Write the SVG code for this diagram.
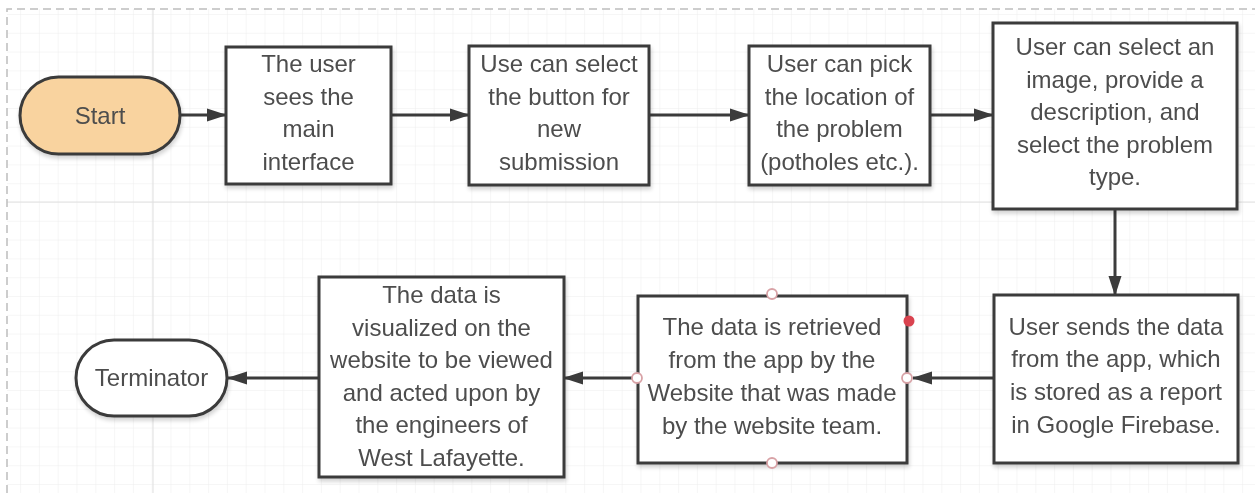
<svg xmlns="http://www.w3.org/2000/svg" width="1255" height="493" viewBox="0 0 1255 493">
  <style>
    .box { fill: #ffffff; stroke: #3b3b3b; stroke-width: 3; }
    .start { fill: #f9d39f; stroke: #3b3b3b; stroke-width: 3; }
    .term { fill: #ffffff; stroke: #3b3b3b; stroke-width: 3; }
    .lbl { font-family: "Liberation Sans", Arial, sans-serif; font-size: 24px; fill: #4d4d4d; text-anchor: middle; }
    .conn { stroke: #3b3b3b; stroke-width: 3; fill: none; marker-end: url(#arrow); }
    .cp { fill: #ffffff; stroke: #d8a2a6; stroke-width: 1.8; }
  </style>
  <defs>
    <pattern id="grid" x="1.3" y="14" width="18.8" height="18.8" patternUnits="userSpaceOnUse">
      <path d="M 0 0 L 18.8 0 M 0 0 L 0 18.8" stroke="#ededed" stroke-width="1" fill="none"/>
    </pattern>
    <marker id="arrow" markerWidth="20" markerHeight="16" refX="19" refY="8" orient="auto" markerUnits="userSpaceOnUse">
      <path d="M0,1.5 L20,8 L0,14.5 Z" fill="#3b3b3b"/>
    </marker>
    <filter id="sh" x="-10%" y="-10%" width="125%" height="130%">
      <feGaussianBlur in="SourceAlpha" stdDeviation="2"/>
      <feOffset dx="1" dy="3" result="b"/>
      <feComponentTransfer><feFuncA type="linear" slope="0.18"/></feComponentTransfer>
      <feMerge><feMergeNode/><feMergeNode in="SourceGraphic"/></feMerge>
    </filter>
  </defs>

  <rect x="0" y="0" width="1255" height="493" fill="#ffffff"/>
  <rect x="7" y="9" width="1248" height="484" fill="url(#grid)"/>
  <line x1="153" y1="9" x2="153" y2="493" stroke="#e0e0e0" stroke-width="1"/>
  <line x1="7" y1="202" x2="1255" y2="202" stroke="#e0e0e0" stroke-width="1"/>
  <path d="M 7 493 L 7 9 L 1255 9" fill="none" stroke="#bdbdbd" stroke-width="1.5" stroke-dasharray="8 5"/>

  <g id="connectors">
    <line class="conn" x1="180" y1="115" x2="226" y2="115"/>
    <line class="conn" x1="391" y1="115" x2="469" y2="115"/>
    <line class="conn" x1="649" y1="115" x2="749" y2="115"/>
    <line class="conn" x1="930" y1="115" x2="993" y2="115"/>
    <line class="conn" x1="1115" y1="209" x2="1115" y2="295"/>
    <line class="conn" x1="994" y1="378" x2="913" y2="378"/>
    <line class="conn" x1="632" y1="378" x2="564" y2="378"/>
    <line class="conn" x1="319" y1="378" x2="228" y2="378"/>
  </g>

  <g id="start" filter="url(#sh)">
    <rect class="start" x="20" y="77" width="160" height="77" rx="38.5" ry="38.5"/>
    <text class="lbl" x="100" y="124">Start</text>
  </g>

  <g id="n1" filter="url(#sh)">
    <rect class="box" x="226" y="47" width="165" height="137"/>
    <text class="lbl" x="308.5" y="72">The user</text>
    <text class="lbl" x="308.5" y="105">sees the</text>
    <text class="lbl" x="308.5" y="137">main</text>
    <text class="lbl" x="308.5" y="170">interface</text>
  </g>

  <g id="n2" filter="url(#sh)">
    <rect class="box" x="469" y="46" width="180" height="139"/>
    <text class="lbl" x="559" y="72">Use can select</text>
    <text class="lbl" x="559" y="105">the button for</text>
    <text class="lbl" x="559" y="137">new</text>
    <text class="lbl" x="559" y="170">submission</text>
  </g>

  <g id="n3" filter="url(#sh)">
    <rect class="box" x="749" y="46" width="181" height="139"/>
    <text class="lbl" x="839.5" y="72">User can pick</text>
    <text class="lbl" x="839.5" y="105">the location of</text>
    <text class="lbl" x="839.5" y="137">the problem</text>
    <text class="lbl" x="839.5" y="170">(potholes etc.).</text>
  </g>

  <g id="n4" filter="url(#sh)">
    <rect class="box" x="993" y="23" width="244" height="186"/>
    <text class="lbl" x="1115" y="55">User can select an</text>
    <text class="lbl" x="1115" y="88">image, provide a</text>
    <text class="lbl" x="1115" y="120">description, and</text>
    <text class="lbl" x="1115" y="153">select the problem</text>
    <text class="lbl" x="1115" y="185">type.</text>
  </g>

  <g id="n5" filter="url(#sh)">
    <rect class="box" x="994" y="295" width="244" height="168"/>
    <text class="lbl" x="1116" y="335">User sends the data</text>
    <text class="lbl" x="1116" y="367">from the app, which</text>
    <text class="lbl" x="1116" y="400">is stored as a report</text>
    <text class="lbl" x="1116" y="433">in Google Firebase.</text>
  </g>

  <g id="n6" filter="url(#sh)">
    <rect class="box" x="638" y="296" width="269" height="167"/>
    <text class="lbl" x="772" y="335">The data is retrieved</text>
    <text class="lbl" x="772" y="368">from the app by the</text>
    <text class="lbl" x="772" y="401">Website that was made</text>
    <text class="lbl" x="772" y="434">by the website team.</text>
  </g>
  <g id="n6-handles">
    <circle class="cp" cx="772" cy="294" r="5"/>
    <circle class="cp" cx="772" cy="463" r="5"/>
    <circle class="cp" cx="637" cy="378" r="5"/>
    <circle class="cp" cx="907" cy="378" r="5"/>
    <circle cx="909" cy="321" r="5.5" fill="#d9434f"/>
  </g>

  <g id="n7" filter="url(#sh)">
    <rect class="box" x="319" y="277" width="245" height="200"/>
    <text class="lbl" x="441.5" y="303">The data is</text>
    <text class="lbl" x="441.5" y="336">visualized on the</text>
    <text class="lbl" x="441.5" y="368">website to be viewed</text>
    <text class="lbl" x="441.5" y="401">and acted upon by</text>
    <text class="lbl" x="441.5" y="433">the engineers of</text>
    <text class="lbl" x="441.5" y="466">West Lafayette.</text>
  </g>

  <g id="terminator" filter="url(#sh)">
    <rect class="term" x="76" y="340" width="151" height="76" rx="38" ry="38"/>
    <text class="lbl" x="151.5" y="386">Terminator</text>
  </g>
</svg>
